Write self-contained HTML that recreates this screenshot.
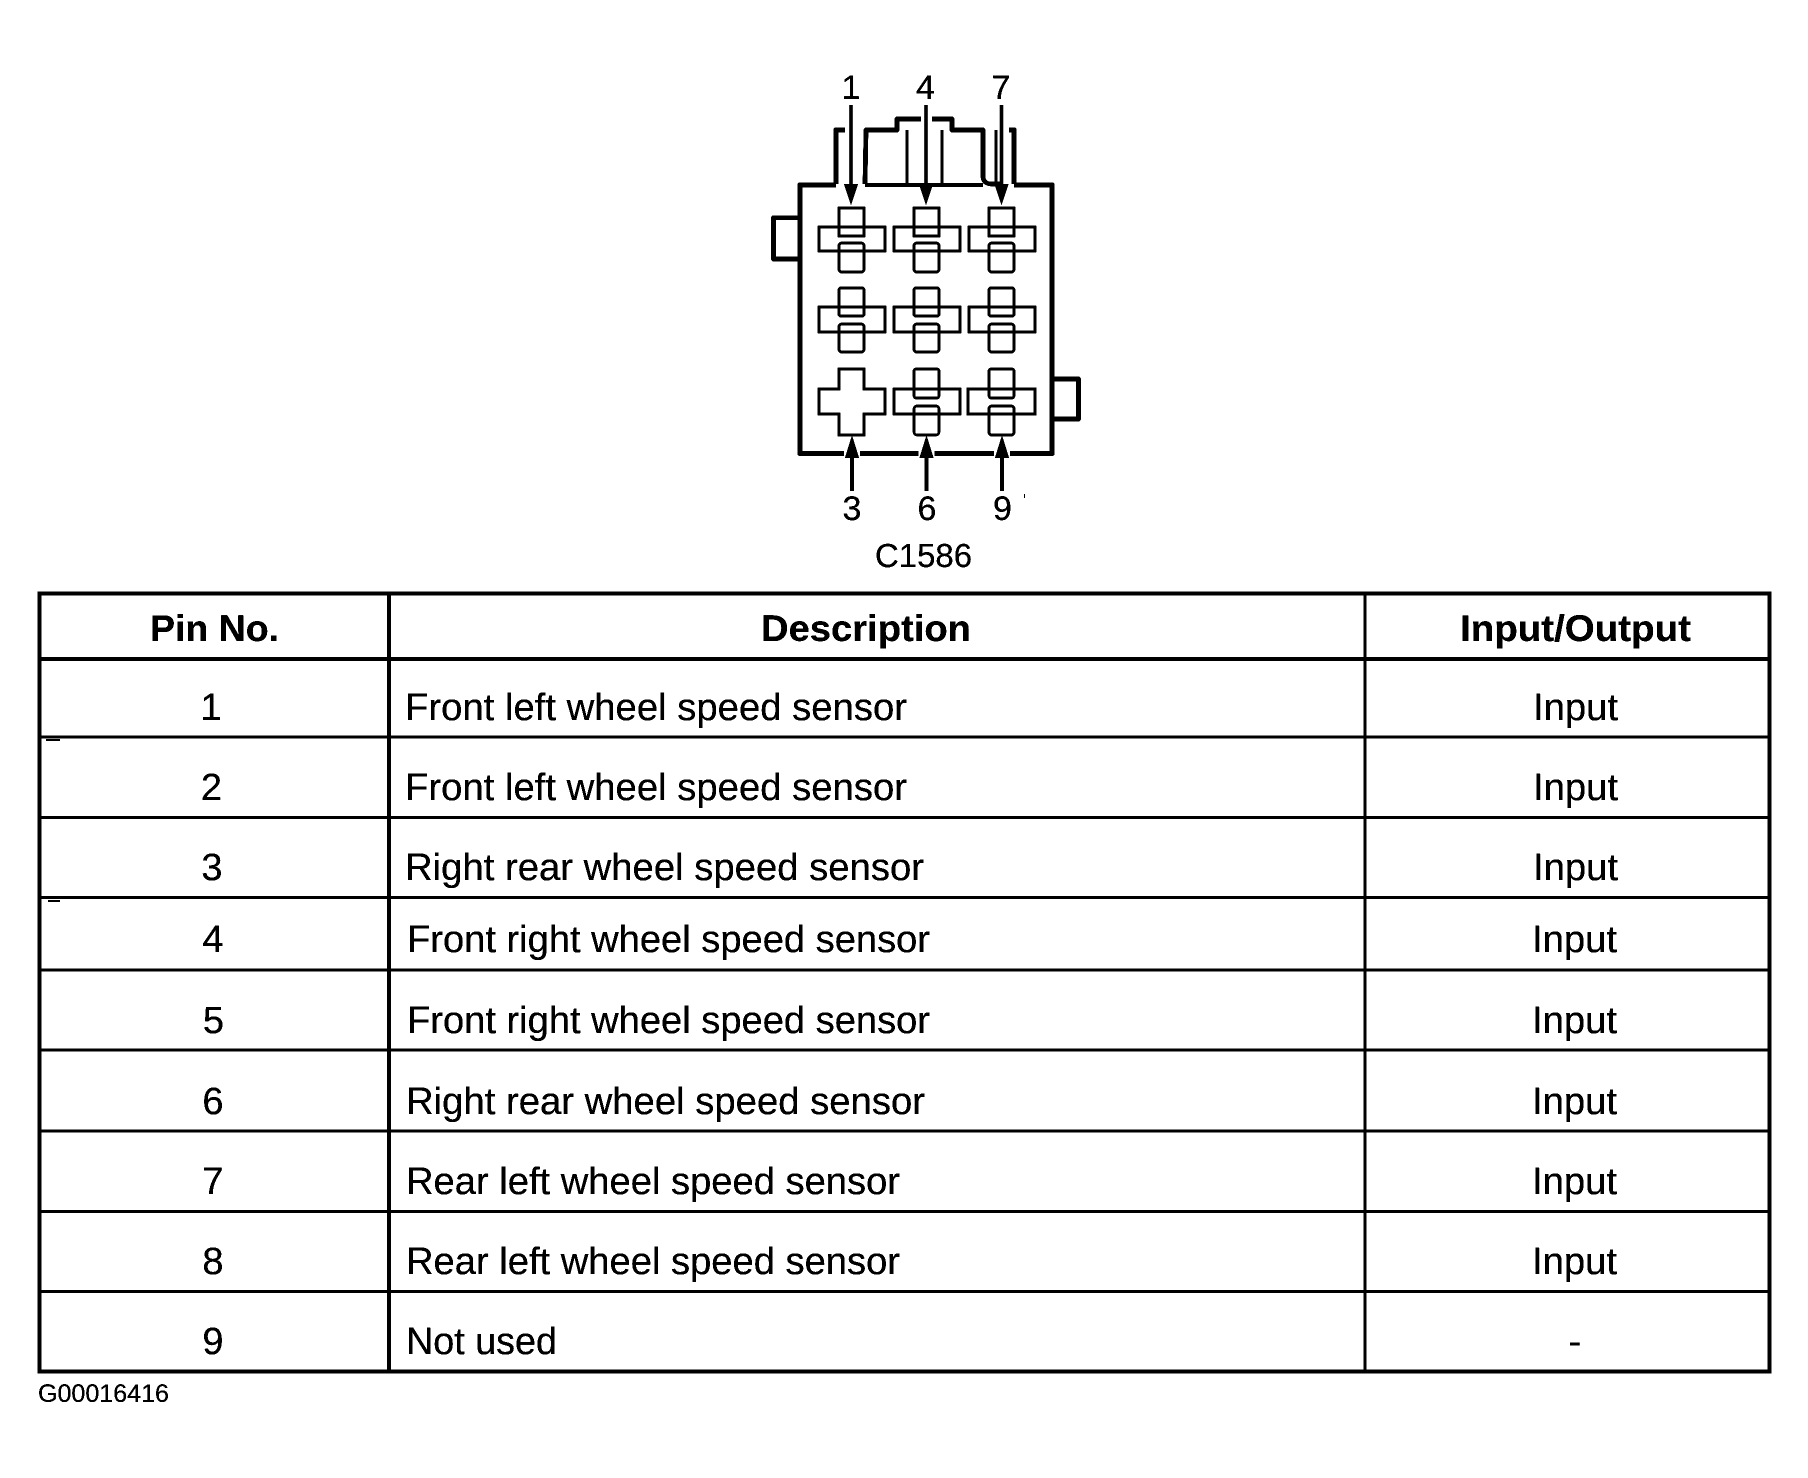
<!DOCTYPE html>
<html><head><meta charset="utf-8"><style>
html,body{margin:0;padding:0;background:#fff}
svg{display:block}
text{font-family:"Liberation Sans",Arial,sans-serif;fill:#000}
</style></head><body>
<svg width="1808" height="1478" viewBox="0 0 1808 1478" xmlns="http://www.w3.org/2000/svg">
<defs><filter id="bw" x="0" y="0" width="100%" height="100%" filterUnits="userSpaceOnUse" color-interpolation-filters="sRGB">
<feComponentTransfer><feFuncR type="linear" slope="6" intercept="-4.4"/><feFuncG type="linear" slope="6" intercept="-4.4"/><feFuncB type="linear" slope="6" intercept="-4.4"/></feComponentTransfer>
</filter></defs>
<rect width="1808" height="1478" fill="#fff"/>
<g filter="url(#bw)">
<rect width="1808" height="1478" fill="#fff"/>
<g fill="none" stroke="#000" stroke-linejoin="round">
<!-- body -->
<path d="M836 185H800V453.5H1052V185H1014" stroke-width="5"/>
<path d="M865 185H983" stroke-width="4"/>
<!-- tabs -->
<path d="M800 217.7H773.5V259H800" stroke-width="4.5"/>
<path d="M1052 379H1078.5V419H1052" stroke-width="4.5"/>
<!-- top latch -->
<path d="M836 184V130H845" stroke-width="5"/>
<path d="M865 184L866 130H897V119H921M932 119H952V130H983V176Q983 184 992 184H1000" stroke-width="4.5"/>
<path d="M996 130V184M907 130V184M942 130V184" stroke-width="2.5"/>
<path d="M1009 130H1014V184" stroke-width="5"/>
</g>
<!-- white gaps in the bottom wall -->
<rect x="844" y="448" width="16" height="11" fill="#fff"/>
<rect x="918.5" y="448" width="16" height="11" fill="#fff"/>
<rect x="994" y="448" width="16" height="11" fill="#fff"/>
<!-- pins -->
<g fill="none" stroke="#000" stroke-width="2.4">
<g><rect x="819" y="227" width="66" height="24"/><rect x="839" y="208" width="25" height="28"/><rect x="839" y="243" width="25" height="29" rx="3" stroke-width="2.8"/></g>
<g><rect x="894" y="227" width="66" height="24"/><rect x="914" y="208" width="25" height="28"/><rect x="914" y="243" width="25" height="29" rx="3" stroke-width="2.8"/></g>
<g><rect x="969" y="227" width="66" height="24"/><rect x="989" y="208" width="25" height="28"/><rect x="989" y="243" width="25" height="29" rx="3" stroke-width="2.8"/></g>

<g><rect x="819" y="307" width="66" height="25"/><rect x="839" y="288" width="25" height="28" rx="2" stroke-width="2.8"/><rect x="839" y="324" width="25" height="28" rx="3" stroke-width="2.8"/></g>
<g><rect x="894" y="307" width="66" height="25"/><rect x="914" y="288" width="25" height="28" rx="2" stroke-width="2.8"/><rect x="914" y="324" width="25" height="28" rx="3" stroke-width="2.8"/></g>
<g><rect x="969" y="307" width="66" height="25"/><rect x="989" y="288" width="25" height="28" rx="2" stroke-width="2.8"/><rect x="989" y="324" width="25" height="28" rx="3" stroke-width="2.8"/></g>

<path d="M839 369H864V389H885V414H864V435H839V414H819V389H839Z"/>
<g><rect x="894" y="389" width="66" height="25"/><rect x="914" y="369" width="25" height="29" rx="2"/><rect x="914" y="406" width="25" height="29" rx="3"/></g>
<g><rect x="968" y="389" width="67" height="25" stroke-width="2.8"/><rect x="989" y="369" width="25" height="29" rx="2"/><rect x="989" y="406" width="25" height="29" rx="3" stroke-width="2.8"/></g>
</g>
<!-- arrows -->
<g stroke="#000" stroke-width="3.2">
<path d="M851 105V190M926 105V190M1001.5 105V190"/>
<path d="M852 456V491M926.5 456V491M1002 456V491" stroke-width="4"/>
</g>
<g fill="#000">
<path d="M844 184H858L851 205ZM919 184H933L926 205ZM994.500 184H1008.500L1001.500 205Z"/>
<path d="M845 458H859L852 435.500ZM919.500 458H933.500L926.500 435.500ZM995 458H1009L1002 435.500Z"/>
</g>
<rect x="1024" y="494" width="1" height="4" fill="#000"/>
<!-- connector labels -->
<g font-size="34" text-anchor="middle">
<text x="851" y="99">1</text><text x="925.500" y="99">4</text><text x="1001" y="99">7</text>
<text x="852" y="520">3</text><text x="927" y="520">6</text><text x="1002.500" y="520">9</text>
</g>
<text x="875" y="567" font-size="33" textLength="97" lengthAdjust="spacingAndGlyphs">C1586</text>
<!-- table -->
<g stroke="#000" fill="none">
<rect x="39.500" y="593.500" width="1730" height="778" stroke-width="4"/>
<path d="M389 593V1372" stroke-width="4"/>
<path d="M1365 593V1372" stroke-width="2.800"/>
<path d="M38 659H1770" stroke-width="4"/>
<path d="M38 737H1770M38 817.500H1770M38 897.500H1770M38 970H1770M38 1050H1770M38 1131H1770M38 1211.500H1770M38 1291.500H1770" stroke-width="2.800"/>
<path d="M46 740H60M48 901H60" stroke-width="1.500"/>
</g>
<!-- header -->
<g font-size="37" font-weight="700">
<text x="150" y="641" textLength="129" lengthAdjust="spacingAndGlyphs">Pin No.</text>
<text x="761" y="641" textLength="210" lengthAdjust="spacingAndGlyphs">Description</text>
<text x="1460" y="641" textLength="231" lengthAdjust="spacingAndGlyphs">Input/Output</text>
</g>
<!-- rows -->
<g font-size="38" text-anchor="middle">
<text x="211" y="720">1</text><text x="211.500" y="800">2</text><text x="212" y="880">3</text>
<text x="213" y="952">4</text><text x="213.500" y="1033">5</text><text x="213" y="1114">6</text>
<text x="213" y="1194">7</text><text x="213" y="1274">8</text><text x="213" y="1354">9</text>
<text x="1575" y="1354">-</text>
</g>
<g font-size="38">
<text x="405" y="720" textLength="502" lengthAdjust="spacingAndGlyphs">Front left wheel speed sensor</text>
<text x="405" y="800" textLength="502" lengthAdjust="spacingAndGlyphs">Front left wheel speed sensor</text>
<text x="405" y="880" textLength="519" lengthAdjust="spacingAndGlyphs">Right rear wheel speed sensor</text>
<text x="407" y="952" textLength="523" lengthAdjust="spacingAndGlyphs">Front right wheel speed sensor</text>
<text x="407" y="1033" textLength="523" lengthAdjust="spacingAndGlyphs">Front right wheel speed sensor</text>
<text x="406" y="1114" textLength="519" lengthAdjust="spacingAndGlyphs">Right rear wheel speed sensor</text>
<text x="406" y="1194" textLength="494" lengthAdjust="spacingAndGlyphs">Rear left wheel speed sensor</text>
<text x="406" y="1274" textLength="494" lengthAdjust="spacingAndGlyphs">Rear left wheel speed sensor</text>
<text x="406" y="1354" textLength="151" lengthAdjust="spacingAndGlyphs">Not used</text>
<text x="1533" y="720" textLength="85" lengthAdjust="spacingAndGlyphs">Input</text>
<text x="1533" y="800" textLength="85" lengthAdjust="spacingAndGlyphs">Input</text>
<text x="1533" y="880" textLength="85" lengthAdjust="spacingAndGlyphs">Input</text>
<text x="1532" y="952" textLength="85" lengthAdjust="spacingAndGlyphs">Input</text>
<text x="1532" y="1033" textLength="85" lengthAdjust="spacingAndGlyphs">Input</text>
<text x="1532" y="1114" textLength="85" lengthAdjust="spacingAndGlyphs">Input</text>
<text x="1532" y="1194" textLength="85" lengthAdjust="spacingAndGlyphs">Input</text>
<text x="1532" y="1274" textLength="85" lengthAdjust="spacingAndGlyphs">Input</text>
</g>
<text x="38" y="1402" font-size="25" textLength="131" lengthAdjust="spacingAndGlyphs">G00016416</text>
</g>
</svg>
</body></html>
